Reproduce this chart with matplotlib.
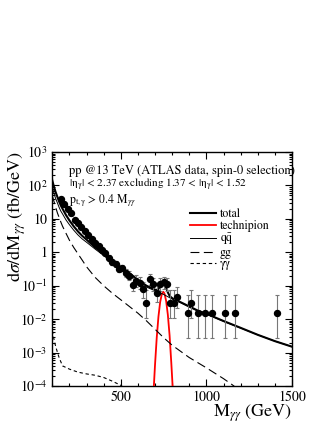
import numpy as np
import matplotlib
matplotlib.use("Agg")
import matplotlib.pyplot as plt
from matplotlib.ticker import MultipleLocator, LogLocator, FuncFormatter, NullFormatter

plt.rcParams['font.family'] = 'STIXGeneral'
plt.rcParams['mathtext.fontset'] = 'stix'

# ATLAS 13 TeV diphoton data (spin-0 selection), 20 GeV bins, 3.2 fb^-1
LUMI = 3.2
BIN_WIDTH = 20.0
data_mass = [150, 170, 190, 210, 230, 250, 270, 290, 310, 330, 350, 370, 390, 410,
             430, 450, 470, 490, 510, 530, 550, 570, 590, 610, 630, 650, 670, 690,
             710, 730, 750, 770, 790, 810, 830, 890, 910, 950, 990, 1030, 1110,
             1170, 1410]
data_xsec = [38, 28, 20, 15, 9.5, 7.6, 5.8, 4.2, 3.3, 2.5, 1.85, 1.5, 1.17, 0.95,
             0.69, 0.50, 0.44, 0.32, 0.34, 0.24, 0.20, 0.107, 0.14, 0.12, 0.078,
             0.031, 0.156, 0.109, 0.0625, 0.109, 0.125, 0.109, 0.031, 0.031, 0.047,
             0.0156, 0.031, 0.0156, 0.0156, 0.0156, 0.0156, 0.0156, 0.0156]

# model curves
bg_mass = [100, 110, 120, 130, 140, 150, 160, 180, 200, 225, 250, 275, 300, 350,
           400, 450, 500, 550, 600, 650, 700, 750, 800, 850, 900, 950, 1000, 1100,
           1200, 1300, 1400, 1500]
qq_xsec = [91, 57, 40, 30, 22, 17, 14, 9.3, 6.7, 4.6, 3.3, 2.5, 2.0, 1.25,
           0.80, 0.50, 0.325, 0.216, 0.134, 0.091, 0.071, 0.055, 0.040, 0.031,
           0.023, 0.0175, 0.0142, 0.0086, 0.0054, 0.0034, 0.0022, 0.0015]
gg_mass = [100, 110, 120, 130, 140, 150, 160, 180, 200, 225, 250, 275, 300, 350,
           400, 450, 500, 550, 600, 650, 700, 750, 800, 900, 1000, 1100, 1150, 1200]
gg_xsec = [50, 33, 22, 15, 11, 8.0, 6.0, 3.7, 2.3, 1.4, 0.9, 0.58, 0.37, 0.178,
           0.10, 0.060, 0.038, 0.024, 0.0151, 0.0089, 0.0050, 0.0028, 0.00166,
           7.1e-4, 3.5e-4, 1.66e-4, 1.1e-4, 7e-5]
yy_mass = [100, 105, 120, 140, 160, 200, 250, 300, 350, 400, 450, 500, 530]
yy_xsec = [4.5e-3, 3.2e-3, 1.5e-3, 7e-4, 4e-4, 3.2e-4, 2.6e-4, 2.3e-4, 2.1e-4,
           1.8e-4, 1.4e-4, 1.05e-4, 8e-5]
tp_mass = [690, 700, 710, 720, 730, 740, 748, 755, 765, 775, 785, 795, 806]
tp_xsec = [5e-5, 4.3e-4, 2.8e-3, 1.19e-2, 3.25e-2, 5.7e-2, 6.6e-2, 5.9e-2,
           3.5e-2, 1.34e-2, 3.3e-3, 5e-4, 5e-5]
tot_mass = [100, 110, 120, 130, 140, 150, 160, 180, 200, 225, 250, 275, 300, 350,
            400, 450, 500, 550, 600, 650, 700, 710, 720, 730, 740, 748, 755, 765,
            775, 785, 795, 805, 850, 900, 950, 1000, 1100, 1200, 1300, 1400, 1500]
tot_xsec = [141, 90, 62, 45, 33, 25, 20, 13, 9.0, 6.0, 4.2, 3.1, 2.4, 1.4,
            0.88, 0.55, 0.36, 0.24, 0.15, 0.10, 0.076, 0.075, 0.080, 0.096, 0.117,
            0.124, 0.115, 0.088, 0.063, 0.050, 0.0445, 0.041, 0.032, 0.024, 0.018,
            0.0145, 0.0088, 0.0055, 0.0034, 0.0022, 0.0015]

y_labels = {3: r'$10^{3}$', 2: r'$10^{2}$', 1: '10', 0: '1',
            -1: r'$10^{-1}$', -2: r'$10^{-2}$', -3: r'$10^{-3}$', -4: r'$10^{-4}$'}

# poisson errors from event counts
data_mass = np.array(data_mass)
data_xsec = np.array(data_xsec)
n = data_xsec * LUMI * BIN_WIDTH
n_up = n + 1 + np.sqrt(n + 0.75)
n_lo = n * (1 - 1 / (9 * n) - 1 / (3 * np.sqrt(n))) ** 3
err_lo = data_xsec - n_lo / (LUMI * BIN_WIDTH)
err_up = n_up / (LUMI * BIN_WIDTH) - data_xsec

fig = plt.figure(figsize=(3.32, 4.30), dpi=100)
ax = fig.add_axes([0.1575, 0.1023, 0.722, 0.5442])

ax.plot(tot_mass, tot_xsec, color='black', lw=1.5, label='total', zorder=3)
ax.plot(tp_mass, tp_xsec, color='red', lw=1.3, label='technipion', zorder=3)
ax.plot(bg_mass, qq_xsec, color='black', lw=0.7, label=r'$\mathrm{q\bar{q}}$', zorder=3)
ax.plot(gg_mass, gg_xsec, color='black', lw=0.8, dashes=(8, 4), label='gg', zorder=3)
ax.plot(yy_mass, yy_xsec, color='black', lw=0.8, dashes=(3, 2.5), label='γγ', zorder=3)

ax.errorbar(data_mass, data_xsec, yerr=[err_lo, err_up], fmt='o', color='black',
            ms=4.3, ecolor='#777777', elinewidth=0.8, capsize=1.5, capthick=0.8,
            zorder=4)

ax.set_yscale('log')
ax.set_xlim(100, 1500)
ax.set_ylim(1e-4, 1e3)
ax.xaxis.set_major_locator(MultipleLocator(500))
ax.xaxis.set_minor_locator(MultipleLocator(100))
ax.yaxis.set_major_locator(LogLocator(base=10, numticks=20))
ax.yaxis.set_minor_locator(LogLocator(base=10, subs=np.arange(2, 10), numticks=20))
ax.yaxis.set_minor_formatter(NullFormatter())
ax.yaxis.set_major_formatter(FuncFormatter(lambda v, p: y_labels.get(int(round(np.log10(v))), '')))
ax.tick_params(which='both', direction='in', top=True, right=True, labelsize=10, width=0.8)
ax.tick_params(which='major', length=5)
ax.tick_params(which='minor', length=2.5)
for s in ax.spines.values():
    s.set_linewidth(1.0)

ax.text(0.068, 0.918, 'pp @13 TeV (ATLAS data, spin-0 selection)', transform=ax.transAxes,
        fontsize=9, va='center', ha='left')
ax.text(0.068, 0.860, r'|η$_{\mathrm{\gamma}}$| < 2.37 excluding 1.37 < |η$_{\mathrm{\gamma}}$| < 1.52',
        transform=ax.transAxes, fontsize=8, va='center', ha='left')
ax.text(0.068, 0.790, r'p$_{\rm t,\gamma}$ > 0.4 M$_{\gamma\gamma}$', transform=ax.transAxes,
        fontsize=8.5, va='center', ha='left')

ax.legend(loc='upper left', bbox_to_anchor=(190 / 332, 1 - 208 / 430),
          bbox_transform=fig.transFigure, frameon=False, fontsize=8.5,
          handlelength=2.2, handletextpad=0.3, labelspacing=0.0,
          borderpad=0, borderaxespad=0)

fig.text(0.05, 0.497, r'd$\sigma$/dM$_{\gamma\gamma}$ (fb/GeV)', rotation=90,
         fontsize=13, ha='center', va='center')
fig.text(292 / 332, 0.04, r'M$_{\gamma\gamma}$ (GeV)', fontsize=13, ha='right', va='center')

fig.savefig('out.png', dpi=100)
